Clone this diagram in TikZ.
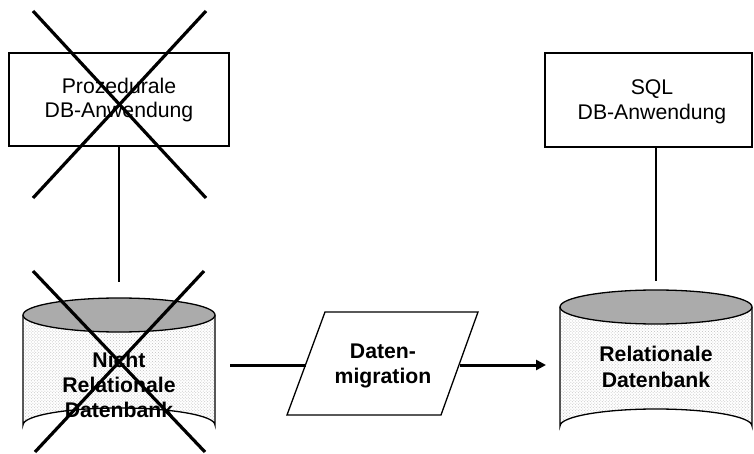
\documentclass[tikz,border=0pt]{standalone}
\usepackage{fontspec}
\setmainfont{Liberation Sans}
\usetikzlibrary{arrows.meta,patterns}
\begin{document}
\begin{tikzpicture}[x=1bp,y=-1bp,
  appbox/.style={draw,line width=1.3bp,fill=white},
  lbl/.style={align=center,font=\fontsize{21.3}{25}\selectfont,inner sep=0pt},
  blbl/.style={align=center,font=\fontsize{21.3}{25.5}\selectfont\bfseries,inner sep=0pt},
  link/.style={line width=1.3bp},
  flow/.style={line width=3bp},
  cross/.style={line width=3.2bp},
  topfill/.style={fill=black!33,draw,line width=1.3bp},
  bodyfill/.style={pattern=crosshatch dots,pattern color=black!25}]
\useasboundingbox (0,0) rectangle (754,454);
% left application box
\draw[appbox] (9,53) rectangle (229,146);
\node[lbl] (lapp) at (119,100) {Prozedurale\\DB-Anwendung};
\coordinate (lappb) at (119,146);
% right application box
\draw[appbox] (545,53) rectangle (752,147);
\node[lbl] (rapp) at (652,102) {SQL\\DB-Anwendung};
\coordinate (rappb) at (656,147);
% left cylinder
\fill[white] (23,315) -- (23,425) arc[start angle=180,end angle=360,x radius=96,y radius=17] -- (215,315) -- cycle;
\fill[bodyfill] (23,315) -- (23,425) arc[start angle=180,end angle=360,x radius=96,y radius=17] -- (215,315) -- cycle;
\draw[link] (23,315) -- (23,425) arc[start angle=180,end angle=360,x radius=96,y radius=17] -- (215,315);
\draw[topfill] (119,315) ellipse[x radius=96,y radius=17];
\coordinate (lcylt) at (119,282);
\node[blbl] (ldb) at (119,385) {Nicht\\Relationale\\Datenbank};
\coordinate (lcylr) at (230,365);
% right cylinder
\fill[white] (560,307) -- (560,426) arc[start angle=180,end angle=360,x radius=96,y radius=17] -- (752,307) -- cycle;
\fill[bodyfill] (560,307) -- (560,426) arc[start angle=180,end angle=360,x radius=96,y radius=17] -- (752,307) -- cycle;
\draw[link] (560,307) -- (560,426) arc[start angle=180,end angle=360,x radius=96,y radius=17] -- (752,307);
\draw[topfill] (656,307) ellipse[x radius=96,y radius=17];
\coordinate (rcylt) at (656,281);
\node[blbl] (rdb) at (656,367) {Relationale\\Datenbank};
\coordinate (rcyll) at (546,365);
% migration parallelogram
\draw[line width=1.3bp,fill=white] (325,312) -- (478,312) -- (441,415) -- (287,415) -- cycle;
\node[blbl] (mig) at (383,366) {Daten-\\migration};
\coordinate (migl) at (306,365);
\coordinate (migr) at (460,365);
% connectors
\draw[link] (lappb) -- (lcylt);
\draw[link] (rappb) -- (rcylt);
\draw[flow] (lcylr) -- (migl);
\draw[flow,-{Triangle[length=10bp,width=10bp]}] (migr) -- (rcyll);
% crosses
\draw[cross] (33,11) -- (206,198);
\draw[cross] (206,11) -- (33,198);
\draw[cross] (33,271) -- (205,452);
\draw[cross] (204,271) -- (35,452);
\end{tikzpicture}
\end{document}
